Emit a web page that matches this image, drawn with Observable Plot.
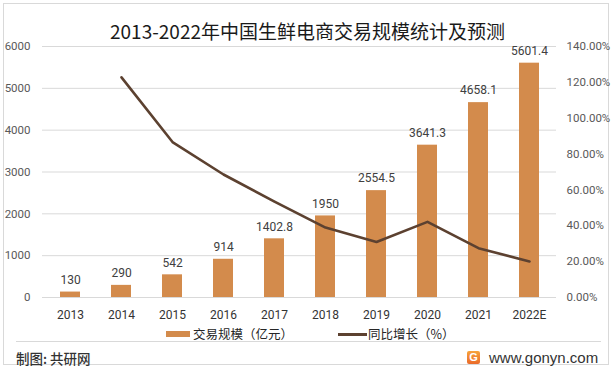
<!DOCTYPE html>
<html>
<head>
<meta charset="utf-8">
<script src="https://cdn.jsdelivr.net/npm/d3@7"></script>
<script src="https://cdn.jsdelivr.net/npm/@observablehq/plot@0.6"></script>
<style>
  html, body { margin: 0; padding: 0; background: #fff; }
  #wrap { position: relative; width: 615px; height: 370px; overflow: hidden; font-family: "Noto Sans CJK SC", sans-serif; }
  #frame { position: absolute; left: 3px; top: 3px; width: 606px; height: 362px; border: 1px solid #d9d9d9; box-sizing: border-box; }
  #title { position: absolute; left: 0; width: 615px; top: 17px; text-align: center; font-size: 19px; line-height: 28px; color: #1a1a1a; }
  .layer { position: absolute; left: 0; top: 0; }
  #legend { position: absolute; top: 325px; left: 0; width: 615px; height: 18px; font-size: 12.5px; color: #262626; }
  .lg { position: absolute; top: 0; line-height: 18px; white-space: nowrap; }
  #sep { position: absolute; left: 16px; top: 341px; width: 585px; height: 1px; background: #d9d9d9; }
  #src { position: absolute; left: 16px; top: 348px; font-size: 13.5px; line-height: 20px; color: #333; font-weight: 500; }
  #web { position: absolute; left: 489px; top: 348px; font-family: "Liberation Sans", Arial, sans-serif; font-size: 15px; line-height: 20px; color: #333; }
  #logo { position: absolute; left: 467px; top: 351px; width: 13px; height: 13px; border-radius: 2px; background: linear-gradient(180deg, #f7a33b, #ea6a2a); color: #fff; font: bold 11px/13px "Liberation Sans", Arial, sans-serif; text-align: center; }
</style>
</head>
<body>
<div id="wrap">
  <div id="frame"></div>
  <div id="title">2013-2022年中国生鲜电商交易规模统计及预测</div>
  <div id="chart" class="layer"></div>
  <div id="overlay" class="layer"></div>
  <div id="legend">
    <div class="lg" style="left:166px;top:6px;width:24px;height:6px;background:#D38B4C;"></div>
    <div class="lg" style="left:193px;">交易规模（亿元）</div>
    <div class="lg" style="left:338px;top:8px;width:29px;height:2.5px;background:#5C4130;"></div>
    <div class="lg" style="left:368px;">同比增长（%）</div>
  </div>
  <div id="sep"></div>
  <div id="src">制图: 共研网</div>
  <div id="logo">G</div>
  <div id="web">www.gonyn.com</div>
</div>
<script>
// ---- data ----
const years = ["2013","2014","2015","2016","2017","2018","2019","2020","2021","2022E"];
const volume = [130, 290, 542, 914, 1402.8, 1950, 2554.5, 3641.3, 4658.1, 5601.4];
const volumeLabels = ["130","290","542","914","1402.8","1950","2554.5","3641.3","4658.1","5601.4"];
const growthYears = ["2014","2015","2016","2017","2018","2019","2020","2021","2022E"];
const growth = [122.8, 86.7, 68.6, 53.5, 39.0, 31.0, 42.2, 27.5, 20.1];
const leftTicks = [0, 1000, 2000, 3000, 4000, 5000, 6000];
const rightTicks = [0, 20, 40, 60, 80, 100, 120, 140];

const bars = years.map((y, i) => ({year: y, value: volume[i], label: volumeLabels[i]}));
const lineData = growthYears.map((y, i) => ({year: y, g: growth[i]}));

const W = 615, H = 330;
const margins = {marginTop: 46, marginBottom: 33, marginLeft: 42, marginRight: 59};
const xOpts = {type: "band", domain: years, paddingInner: 0.61, paddingOuter: 0.305};
const numFont = "Roboto, 'Noto Sans CJK SC', sans-serif";

const chart = Plot.plot({
  width: W, height: H, ...margins,
  style: {fontFamily: numFont, background: "transparent", overflow: "visible"},
  x: {...xOpts, axis: null},
  y: {domain: [0, 6000], axis: null},
  marks: [
    Plot.ruleY(leftTicks, {stroke: "#d9d9d9", strokeWidth: 1}),
    Plot.barY(bars, {x: "year", y: "value", fill: "#D38B4C"}),
    Plot.text(bars, {x: "year", y: "value", text: "label", dy: -12, fontSize: 12, fill: "#404040"}),
    Plot.axisY({ticks: leftTicks, tickSize: 0, tickPadding: 12, fontSize: 11.5, color: "#595959", label: null, tickFormat: d => String(d)}),
    Plot.axisX({tickSize: 0, tickPadding: 13, fontSize: 12, color: "#333", label: null})
  ]
});
document.getElementById("chart").appendChild(chart);

const overlay = Plot.plot({
  width: W, height: H, ...margins,
  style: {fontFamily: numFont, background: "transparent", overflow: "visible"},
  x: {...xOpts, axis: null},
  y: {domain: [0, 140], axis: null},
  marks: [
    Plot.line(lineData, {x: "year", y: "g", stroke: "#5C4130", strokeWidth: 2.6, strokeLinejoin: "round"}),
    Plot.axisY({ticks: rightTicks, anchor: "right", tickSize: 0, tickPadding: 10, fontSize: 11.5, color: "#595959", label: null, textAnchor: "start", tickFormat: d => d.toFixed(2) + "%"})
  ]
});
document.getElementById("overlay").appendChild(overlay);
</script>
</body>
</html>
